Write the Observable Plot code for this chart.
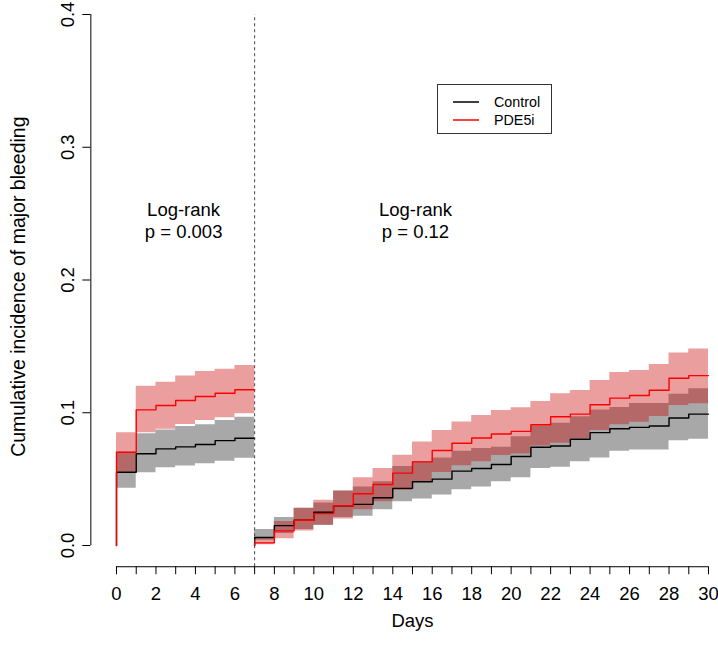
<!DOCTYPE html>
<html><head><meta charset="utf-8">
<script src="https://cdn.jsdelivr.net/npm/d3@7"></script>
<script src="https://cdn.jsdelivr.net/npm/@observablehq/plot@0.6"></script>
<style>
body{margin:0;background:#fff;}
#wrap{position:relative;width:718px;height:661px;font-family:"Liberation Sans",Arial,sans-serif;}
#legend{position:absolute;left:437px;top:84px;width:115px;height:50px;border:1px solid #333;box-sizing:border-box;font-size:14.3px;color:#000;}
.row{position:absolute;left:0;height:18px;width:100%;}
.row svg{position:absolute;left:15px;top:0;}
.row .tx{position:absolute;left:56px;top:0;line-height:18px;}
</style></head>
<body><div id="wrap"></div>
<script>
// ---- data (cumulative incidence by day interval) ----
const seriesNames = ["Control", "PDE5i"];
const seriesColors = ["#000000", "#ff0000"];
// early period: intervals starting day 0..6
const earlyStart = 0;
const ctrlEarly   = [0.0552, 0.0691, 0.0728, 0.0743, 0.0761, 0.0790, 0.0808];
const ctrlEarlyLo = [0.0432, 0.0548, 0.0585, 0.0598, 0.0615, 0.0635, 0.0658];
const ctrlEarlyHi = [0.0703, 0.0841, 0.0871, 0.0896, 0.0910, 0.0942, 0.0967];
const pdeEarly    = [0.0703, 0.1022, 0.1055, 0.1092, 0.1122, 0.1147, 0.1173];
const pdeEarlyLo  = [0.0552, 0.0849, 0.0876, 0.0911, 0.0942, 0.0962, 0.0992];
const pdeEarlyHi  = [0.0849, 0.1200, 0.1230, 0.1276, 0.1310, 0.1328, 0.1356];
// late period: intervals starting day 7..29
const lateStart = 7;
const ctrlLate   = [0.006, 0.015, 0.019, 0.025, 0.030, 0.031, 0.036, 0.043, 0.048, 0.050, 0.056, 0.058, 0.061, 0.067, 0.074, 0.075, 0.080, 0.085, 0.088, 0.089, 0.090, 0.096, 0.099];
const ctrlLateLo = [0.004, 0.009, 0.012, 0.015, 0.021, 0.022, 0.027, 0.033, 0.035, 0.038, 0.042, 0.044, 0.048, 0.051, 0.058, 0.059, 0.063, 0.066, 0.071, 0.072, 0.072, 0.079, 0.080];
const ctrlLateHi = [0.012, 0.021, 0.028, 0.032, 0.041, 0.044, 0.048, 0.0595, 0.063, 0.066, 0.071, 0.073, 0.074, 0.082, 0.090, 0.092, 0.097, 0.102, 0.104, 0.107, 0.107, 0.114, 0.118];
const pdeLate    = [0.002, 0.011, 0.019, 0.024, 0.030, 0.039, 0.046, 0.0545, 0.063, 0.0716, 0.077, 0.081, 0.084, 0.086, 0.091, 0.097, 0.099, 0.106, 0.111, 0.113, 0.117, 0.126, 0.128];
const pdeLateLo  = [0.0005, 0.005, 0.011, 0.0155, 0.020, 0.027, 0.033, 0.0414, 0.0477, 0.055, 0.060, 0.063, 0.0678, 0.069, 0.075, 0.0771, 0.0804, 0.0866, 0.0909, 0.0929, 0.0972, 0.1055, 0.1067];
const pdeLateHi  = [0.005, 0.018, 0.028, 0.034, 0.041, 0.051, 0.058, 0.068, 0.078, 0.0866, 0.093, 0.098, 0.1017, 0.1037, 0.1085, 0.1143, 0.1168, 0.1243, 0.1303, 0.1318, 0.1363, 0.145, 0.148];
const landmarkDay = 7;
const dayTicks = d3.range(0, 31);
const dayLabels = ["0","2","4","6","8","10","12","14","16","18","20","22","24","26","28","30"];
const yTicks = [0, 0.1, 0.2, 0.3, 0.4];
const yLabels = ["0.0", "0.1", "0.2", "0.3", "0.4"];
const annotations = [
  {day: 3.4, value: 0.245, label: "Log-rank\np = 0.003"},
  {day: 15.15, value: 0.245, label: "Log-rank\np = 0.12"}
];

// ---- build step tables ----
function bandRows(start, lo, hi, seg) {
  const rows = lo.map((l, i) => ({t: start + i, lo: l, hi: hi[i], seg}));
  rows.push({t: start + lo.length, lo: lo[lo.length - 1], hi: hi[hi.length - 1], seg});
  return rows;
}
function lineRows(start, v, seg) {
  const rows = [{t: start, v: 0, seg}];
  v.forEach((val, i) => rows.push({t: start + i, v: val, seg}));
  rows.push({t: start + v.length, v: v[v.length - 1], seg});
  return rows;
}
const ctrlBand = [...bandRows(earlyStart, ctrlEarlyLo, ctrlEarlyHi, "a"), ...bandRows(lateStart, ctrlLateLo, ctrlLateHi, "b")];
const pdeBand  = [...bandRows(earlyStart, pdeEarlyLo, pdeEarlyHi, "a"), ...bandRows(lateStart, pdeLateLo, pdeLateHi, "b")];
const ctrlLine = [...lineRows(earlyStart, ctrlEarly, "a"), ...lineRows(lateStart, ctrlLate, "b")];
const pdeLine  = [...lineRows(earlyStart, pdeEarly, "a"), ...lineRows(lateStart, pdeLate, "b")];

const xAxisPos = -0.016;   // R-style extended range bottom
const yAxisPos = -1.3;     // R-style extended range left
const fs = 18.5;

const chart = Plot.plot({
  width: 718, height: 661,
  x: {domain: [0, 30], range: [116, 708], axis: null},
  y: {domain: [0, 0.4], range: [545, 14], axis: null},
  style: {fontFamily: "'Liberation Sans', Arial, sans-serif", fontSize: fs + "px", background: "white", overflow: "visible"},
  marks: [
    Plot.areaY(ctrlBand, {x: "t", y1: "lo", y2: "hi", z: "seg", curve: "step-after", fill: "rgb(168,168,168)"}),
    Plot.areaY(pdeBand, {x: "t", y1: "lo", y2: "hi", z: "seg", curve: "step-after", fill: "rgb(200,0,0)", fillOpacity: 0.38}),
    Plot.line(ctrlLine, {x: "t", y: "v", z: "seg", curve: "step-after", stroke: seriesColors[0], strokeWidth: 1.4}),
    Plot.line(pdeLine, {x: "t", y: "v", z: "seg", curve: "step-after", stroke: seriesColors[1], strokeWidth: 1.4}),
    Plot.ruleX([landmarkDay], {y1: xAxisPos, y2: 0.4, stroke: "#444", strokeWidth: 1, strokeDasharray: "3,3"}),
    // x axis
    Plot.ruleY([xAxisPos], {x1: 0, x2: 30, stroke: "#000", strokeWidth: 1}),
    Plot.ruleX(dayTicks, {x: d => d, y1: xAxisPos, y2: xAxisPos - 8 / 1327.5, stroke: "#000", strokeWidth: 1}),
    Plot.text(dayLabels, {x: d => +d, y: xAxisPos, dy: 27, text: d => d, fontSize: fs, fill: "#000"}),
    Plot.text(["Days"], {x: 15, y: xAxisPos, dy: 54, text: d => d, fontSize: fs, fill: "#000"}),
    // y axis
    Plot.ruleX([yAxisPos], {y1: 0, y2: 0.4, stroke: "#000", strokeWidth: 1}),
    Plot.ruleY(yTicks, {y: d => d, x1: yAxisPos, x2: yAxisPos - 8 / 19.733, stroke: "#000", strokeWidth: 1}),
    Plot.text(yLabels, {x: yAxisPos, y: d => +d, dx: -23, rotate: -90, text: d => d, fontSize: fs, fill: "#000"}),
    Plot.text(["Cumulative incidence of major bleeding"], {x: yAxisPos, y: 0.195, dx: -72, rotate: -90, text: d => d, fontSize: 19.5, fill: "#000"}),
    // annotations
    Plot.text(annotations, {x: "day", y: "value", text: "label", fontSize: fs, lineHeight: 1.14, fill: "#000"})
  ]
});
const wrap = document.getElementById("wrap");
wrap.appendChild(chart);

// legend (inside plot area)
const leg = document.createElement("div");
leg.id = "legend";
seriesNames.forEach((name, i) => {
  const row = document.createElement("div");
  row.className = "row";
  row.style.top = (8 + i * 18) + "px";
  row.innerHTML = `<svg width="28" height="18"><line x1="0" x2="26" y1="9" y2="9" stroke="${seriesColors[i]}" stroke-width="1.5"/></svg><div class="tx">${name}</div>`;
  leg.appendChild(row);
});
wrap.appendChild(leg);
</script></body></html>
